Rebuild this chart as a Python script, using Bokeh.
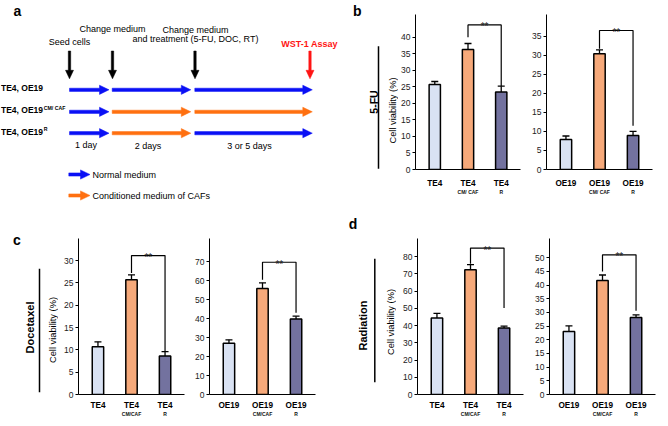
import math
from bokeh.plotting import figure
from bokeh.layouts import row, column
from bokeh.models import Range1d, FixedTicker, LinearAxis, ColumnDataSource, Whisker, TeeHead
from bokeh.core.properties import value
from bokeh.embed import file_html
from bokeh.resources import INLINE

FONT = "Liberation Sans"

# ---------------- data ----------------
te4_names = ["TE4", "TE4", "TE4"]
oe19_names = ["OE19", "OE19", "OE19"]
sub_names_b = ["", "CM/ CAF", "R"]
sub_names_cd = ["", "CM/CAF", "R"]

fu_te4 = [25.7, 36.3, 23.4]
fu_te4_err = [0.9, 1.8, 1.8]
fu_oe19 = [7.9, 30.4, 8.9]
fu_oe19_err = [0.9, 1.0, 1.1]

doc_te4 = [10.7, 25.7, 8.6]
doc_te4_err = [1.1, 1.1, 1.0]
doc_oe19 = [27.0, 55.8, 39.8]
doc_oe19_err = [1.8, 3.0, 1.4]

rt_te4 = [44.3, 72.3, 38.5]
rt_te4_err = [2.7, 3.0, 1.1]
rt_oe19 = [23.0, 41.7, 28.2]
rt_oe19_err = [2.1, 2.0, 0.9]

# significance brackets: [bracket top, left leg end, right leg end]
fu_te4_sig = [43.7, 40.0, 25.2]
fu_oe19_sig = [36.5, 31.7, 11.5]
doc_te4_sig = [31.1, 27.2, 9.6]
doc_oe19_sig = [69.6, 60.4, 43.0]
rt_te4_sig = [84.9, 75.8, 50.1]
rt_oe19_sig = [51.1, 45.0, 30.6]

# y-axis ticks: (max tick, step)
fu_te4_ticks = (40, 5)
fu_oe19_ticks = (35, 5)
doc_te4_ticks = (30, 5)
doc_oe19_ticks = (70, 10)
rt_te4_ticks = (80, 10)
rt_oe19_ticks = (50, 5)

bar_colors = ["#d9e2f3", "#f6a97a", "#73729f"]

# ---------------- diagram content (panel a) ----------------
row_labels = ["TE4, OE19", "TE4, OE19", "TE4, OE19"]
row_sups = ["", "CM/ CAF", "R"]
row_colors = [["blue", "blue", "blue"],
              ["blue", "orange", "orange"],
              ["blue", "orange", "blue"]]
period_labels = ["1 day", "2 days", "3 or 5 days"]
step_labels = ["Seed cells", "Change medium", "Change medium", "and treatment (5-FU, DOC, RT)"]
legend_labels = ["Normal medium", "Conditioned medium of CAFs"]
PAL = {"blue": "#0a10f5", "orange": "#ff7010"}


def blank(x0, x1, y0, y1):
    w = int(round(x1 - x0))
    h = int(round(y1 - y0))
    p = figure(width=w, height=h, x_range=Range1d(x0, x1), y_range=Range1d(y1, y0),
               output_backend="svg", toolbar_location=None,
               x_axis_type=None, y_axis_type=None,
               min_border=0, min_border_left=0, min_border_right=0,
               min_border_top=0, min_border_bottom=0)
    p.outline_line_color = None
    p.grid.visible = False
    p.background_fill_color = "white"
    p.border_fill_color = "white"
    return p


def txt(p, x, y, s, size, bold=False, color="black", align="left", baseline="middle", angle=0.0):
    p.text(x=[x], y=[y], text=[s], text_font=value(FONT), text_font_size=value(size),
           text_font_style=value("bold" if bold else "normal"), text_color=value(color),
           text_align=value(align), text_baseline=value(baseline), angle=angle)


def harrow(p, x0, x1, y, color, shaft=3.2, hl=9.5, hh=4.6):
    xs = [x0, x1 - hl, x1 - hl, x1, x1 - hl, x1 - hl, x0]
    ys = [y - shaft / 2, y - shaft / 2, y - hh, y, y + hh, y + shaft / 2, y + shaft / 2]
    p.patch(xs, ys, fill_color=color, line_color=color, line_width=0.5)


def varrow(p, x, y0, y1, color, shaft=2.4, hl=8.5, hh=4.0):
    ys = [y0, y1 - hl, y1 - hl, y1, y1 - hl, y1 - hl, y0]
    xs = [x - shaft / 2, x - shaft / 2, x - hh, x, x + hh, x + shaft / 2, x + shaft / 2]
    p.patch(xs, ys, fill_color=color, line_color=color, line_width=0.5)


def bar_chart(vals, errs, sig, names, subs, ticks, tick_px, width, height,
              bl, br, bt, bb, row_top, main_standoff, sub_standoff):
    tmax, tstep = ticks
    frame_top = row_top + bt
    frame_bot = row_top + height - bb
    ymax = tmax * (frame_bot - frame_top) / (frame_bot - tick_px)
    p = figure(width=width, height=height, x_range=Range1d(-0.58, 2.58), y_range=Range1d(0, ymax),
               output_backend="svg", toolbar_location=None, x_axis_type=None,
               min_border_left=bl, min_border_right=br, min_border_top=bt, min_border_bottom=bb)
    p.outline_line_color = None
    p.grid.visible = False
    p.background_fill_color = "white"
    p.border_fill_color = "white"

    xs = list(range(len(vals)))
    src = ColumnDataSource(dict(x=xs, top=vals, upper=[v + e for v, e in zip(vals, errs)],
                                color=bar_colors))
    p.add_layout(Whisker(source=src, base="x", lower="top", upper="upper", dimension="height",
                         line_color="black", line_width=1.3,
                         upper_head=TeeHead(size=7, line_color="black", line_width=1.3),
                         lower_head=None))
    p.vbar(x="x", top="top", bottom=0, width=0.34, source=src, fill_color="color",
           line_color="black", line_width=1.5)

    p.line(x=[1, 1, 2, 2], y=[sig[1], sig[0], sig[0], sig[2]], line_color="black", line_width=1.2)
    p.text(x=[1.5], y=[sig[0]], text=["**"], text_font=value(FONT), text_font_size=value("10px"),
           text_align=value("center"), text_baseline=value("alphabetic"), y_offset=2,
           text_color=value("#222222"))

    yax = p.yaxis[0]
    yax.ticker = FixedTicker(ticks=list(range(0, tmax + 1, tstep)))
    yax.major_tick_out = 3
    yax.major_tick_in = 0
    yax.minor_tick_out = 0
    yax.minor_tick_in = 0
    yax.major_label_standoff = 2
    yax.major_label_text_font = FONT
    yax.major_label_text_font_size = "8.5px"
    yax.major_label_text_color = "#222222"
    yax.axis_line_color = "black"
    yax.major_tick_line_color = "black"

    ax1 = LinearAxis(ticker=FixedTicker(ticks=xs),
                     major_label_overrides={i: n for i, n in zip(xs, names)},
                     major_tick_out=0, major_tick_in=0, minor_tick_out=0, minor_tick_in=0,
                     major_label_standoff=main_standoff, axis_line_color="black",
                     major_label_text_font=FONT, major_label_text_font_size="8.2px",
                     major_label_text_font_style="bold", major_label_text_color="black")
    p.add_layout(ax1, "below")
    ax2 = LinearAxis(ticker=FixedTicker(ticks=xs),
                     major_label_overrides={i: (n if n else " ") for i, n in zip(xs, subs)},
                     major_tick_out=0, major_tick_in=0, minor_tick_out=0, minor_tick_in=0,
                     major_label_standoff=sub_standoff, axis_line_color=None,
                     major_tick_line_color=None, minor_tick_line_color=None,
                     major_label_text_font=FONT, major_label_text_font_size="5px",
                     major_label_text_font_style="bold", major_label_text_color="#111111")
    p.add_layout(ax2, "below")
    return p


TOP0, TOP_H = 0, 205
BOT0, BOT_H = 205, 221
YLAB = "Cell viability (%)"

# ---------------- top row ----------------
A = blank(0, 398, TOP0, TOP0 + TOP_H)
txt(A, 13, 10, "a", "14px", bold=True, baseline="alphabetic")
txt(A, 69, 41, step_labels[0], "9px", align="center")
txt(A, 112, 28.5, step_labels[1], "9px", align="center")
txt(A, 195, 29.5, step_labels[2], "9px", align="center")
txt(A, 195, 38.5, step_labels[3], "9px", align="center")
txt(A, 309, 43, "WST-1 Assay", "9px", bold=True, color="#ff1414", align="center")
for xd in [69, 112, 194.5]:
    varrow(A, xd, 50.5, 78.3, "black")
varrow(A, 309.5, 50.5, 78.3, "#ff1414")

rows_y = [89.3, 111.3, 132.7]
segs = [(69, 108.5), (111.7, 190.3), (194.3, 311.8)]
for ri, yy in enumerate(rows_y):
    txt(A, 0.5, yy - 1.5, row_labels[ri], "8.5px", bold=True)
    if row_sups[ri]:
        txt(A, 43.3, yy - 4.3, row_sups[ri], "5.2px", bold=True)
    for si, (sx0, sx1) in enumerate(segs):
        harrow(A, sx0, sx1, yy, PAL[row_colors[ri][si]])
txt(A, 85.5, 144.5, period_labels[0], "9px", align="center")
txt(A, 147.5, 145, period_labels[1], "9px", align="center")
txt(A, 249, 145, period_labels[2], "9px", align="center")
harrow(A, 68.3, 89.5, 174, PAL["blue"])
harrow(A, 68.3, 89.5, 195, PAL["orange"])
txt(A, 92, 174, legend_labels[0], "9px")
txt(A, 92, 195, legend_labels[1], "9px")
# panel b side labels
txt(A, 352.5, 10, "b", "14px", bold=True, baseline="alphabetic")
txt(A, 373.5, 101.5, "5-FU", "10.5px", bold=True, align="center", angle=math.pi / 2)
A.line(x=[378, 378], y=[45.7, 168.3], line_color="black", line_width=1.5)
txt(A, 392, 110, YLAB, "9.3px", align="center", angle=math.pi / 2)

B1 = bar_chart(fu_te4, fu_te4_err, fu_te4_sig, te4_names, sub_names_b, fu_te4_ticks, 36.7,
               127, TOP_H, 16, 5, 14, 36, TOP0, 9, -2)
B2 = bar_chart(fu_oe19, fu_oe19_err, fu_oe19_sig, oe19_names, sub_names_b, fu_oe19_ticks, 35.7,
               143, TOP_H, 21, 16, 14, 36, TOP0, 9, -2)

# ---------------- bottom row ----------------
C0 = blank(0, 58, BOT0, BOT0 + BOT_H)
txt(C0, 12.5, 239.3, "c", "14px", bold=True, baseline="alphabetic")
txt(C0, 29, 327, "Docetaxel", "11px", bold=True, align="center", angle=math.pi / 2)
C0.line(x=[39, 39], y=[268.3, 391.7], line_color="black", line_width=1.5)
txt(C0, 52, 329.5, YLAB, "9.3px", align="center", angle=math.pi / 2)

C1 = bar_chart(doc_te4, doc_te4_err, doc_te4_sig, te4_names, sub_names_cd, doc_te4_ticks, 260,
               130, BOT_H, 20, 4, 33, 32, BOT0, 6, -2)
C2 = bar_chart(doc_oe19, doc_oe19_err, doc_oe19_sig, oe19_names, sub_names_cd, doc_oe19_ticks, 261,
               142, BOT_H, 21, 15, 33, 32, BOT0, 6, -2)

D0 = blank(330, 396, BOT0, BOT0 + BOT_H)
txt(D0, 348.3, 223.3, "d", "14px", bold=True, baseline="alphabetic")
txt(D0, 362.5, 325, "Radiation", "11px", bold=True, align="center", angle=math.pi / 2)
D0.line(x=[374.3, 374.3], y=[258.3, 381.7], line_color="black", line_width=1.5)
txt(D0, 390, 321.5, YLAB, "9.3px", align="center", angle=math.pi / 2)

D1 = bar_chart(rt_te4, rt_te4_err, rt_te4_sig, te4_names, sub_names_cd, rt_te4_ticks, 256,
               131, BOT_H, 21, 4, 33, 32, BOT0, 6, -2)
D2 = bar_chart(rt_oe19, rt_oe19_err, rt_oe19_sig, oe19_names, sub_names_cd, rt_oe19_ticks, 257.3,
               141, BOT_H, 22, 13, 33, 32, BOT0, 6, -2)

top = row(column(A), column(B1), column(B2))
bottom = row(column(C0), column(C1), column(C2), column(D0), column(D1), column(D2))
layout = column(top, bottom)

with open("out.html", "w") as f:
    f.write(file_html(layout, INLINE))
